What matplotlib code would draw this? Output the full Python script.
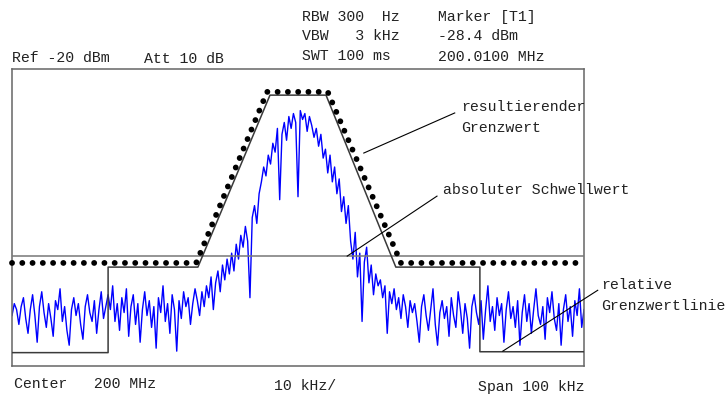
import numpy as np
import matplotlib.pyplot as plt

# level values of the trace in dBm, span -50..+50 kHz around 200 MHz
trace_dbm = [
    # far left noise
    -103, -99, -101, -106, -100, -97, -104, -109, -101, -96, -103, -112, -100, -95,
    -102, -107, -99, -104, -110, -98, -101, -94, -105, -100, -108, -113, -101, -97,
    -103, -99, -106, -111, -100, -96, -102, -105, -98, -109, -101, -95, -104, -100,
    # noise under the raised relative step
    -96, -101, -93, -105, -99, -108, -97, -102, -94, -110, -100, -96, -106, -99,
    -112, -101, -95, -103, -98, -107, -100, -114, -97, -102, -93, -105, -99, -109,
    -96, -101, -115, -98, -104, -95, -100, -97, -106, -99, -94,
    # rising edge
    -98, -103, -95, -100, -93, -97, -90, -101, -92, -88, -95, -86, -91, -84, -89,
    -82, -88, -79, -84, -76, -80, -73, -78, -97, -70, -66, -72, -62,
    -58, -53, -56, -49, -52, -45, -48, -40, -64, -42, -38, -44,
    # peak
    -36, -40, -35, -38, -63, -34, -37, -35, -41, -36, -39, -43,
    # falling edge
    -40, -46, -42, -50, -47, -55, -49, -58, -53, -62, -57, -68, -63,
    -72, -66, -78, -84, -75, -90, -82, -105, -85, -80, -92, -86, -96, -89, -93,
    -91, -97, -93, -109, -95, -99, -94, -101, -97, -104, -96, -100, -107, -98, -102,
    # right noise
    -99, -105, -112, -100, -96, -103, -108, -101, -94, -106, -113, -102, -98, -104,
    -100, -110, -97, -103, -107, -95, -101, -109, -99, -104, -114, -100, -96, -102,
    -106, -98, -111, -101, -93, -105, -100, -108, -97, -103, -99, -112, -101, -95,
    -104, -100, -107, -98, -113, -102, -96, -105, -99, -109, -101, -94, -103, -106,
    -100, -111, -97, -102, -95, -104, -108, -99, -113, -101, -96, -105, -100, -110,
    -98, -103, -94, -107, -101,
]
freq_khz = np.linspace(-50, 50, len(trace_dbm))

abs_threshold = -83

rel_freq = [-50, -33.2, -33.2, -17.5, -4.9, 4.9, 17.1, 31.8, 31.8, 50]
rel_level = [-115.5, -115.5, -86.7, -86.7, -28.8, -28.8, -86.7, -86.7, -115.2, -115.2]

res_freq = [-50, -17.8, -5.4, 5.2, 18.0, 50]
res_level = [-85.3, -85.3, -27.7, -27.7, -85.3, -85.3]

W, H = 727, 396
mono = "Liberation Mono"
fs = 10.7

fig = plt.figure(figsize=(W / 100, H / 100), dpi=100)
ax = fig.add_axes([12 / W, 1 - 366 / H, 572 / W, 297 / H])

ax.plot(freq_khz, trace_dbm, color="#0000ff", lw=1.0, zorder=2)
ax.axhline(abs_threshold, color="#777777", lw=1.1, zorder=3)
ax.plot(rel_freq, rel_level, color="#3a3a3a", lw=1.1, zorder=3)
ax.plot(res_freq, res_level, color="black", lw=4.2, linestyle=(0, (0.01, 1.75)),
        dash_capstyle="round", clip_on=False, zorder=4)

ax.set_xlim(-50, 50)
ax.set_ylim(-120, -20)
ax.set_xticks([])
ax.set_yticks([])
for s in ax.spines.values():
    s.set_color("#666666")
    s.set_linewidth(1.1)

# callouts
notes = [
    ((11.5, -48.3), (27.4, -34.8)),
    ((8.6, -83.0), (24.3, -62.8)),
    ((35.8, -115.0), (52.4, -94.5)),
]
for p0, p1 in notes:
    ax.plot([p0[0], p1[0]], [p0[1], p1[1]], color="black", lw=0.8, clip_on=False, zorder=5)


def txt(x, y, s):
    fig.text(x / W, 1 - y / H, s, family=mono, fontsize=fs, va="center", ha="left", color="#222222")


txt(461, 107, "resultierender")
txt(461, 128, "Grenzwert")
txt(443, 190, "absoluter Schwellwert")
txt(601, 285, "relative")
txt(601, 306, "Grenzwertlinie")

txt(302, 17, "RBW 300  Hz")
txt(302, 36, "VBW   3 kHz")
txt(302, 56, "SWT 100 ms")
txt(438, 17, "Marker [T1]")
txt(438, 36, "-28.4 dBm")
txt(438, 57, "200.0100 MHz")
txt(12, 58, "Ref -20 dBm")
txt(144, 59, "Att 10 dB")
txt(14, 384, "Center   200 MHz")
txt(274, 386, "10 kHz/")
txt(478, 387, "Span 100 kHz")

fig.savefig("out.png", dpi=100)
